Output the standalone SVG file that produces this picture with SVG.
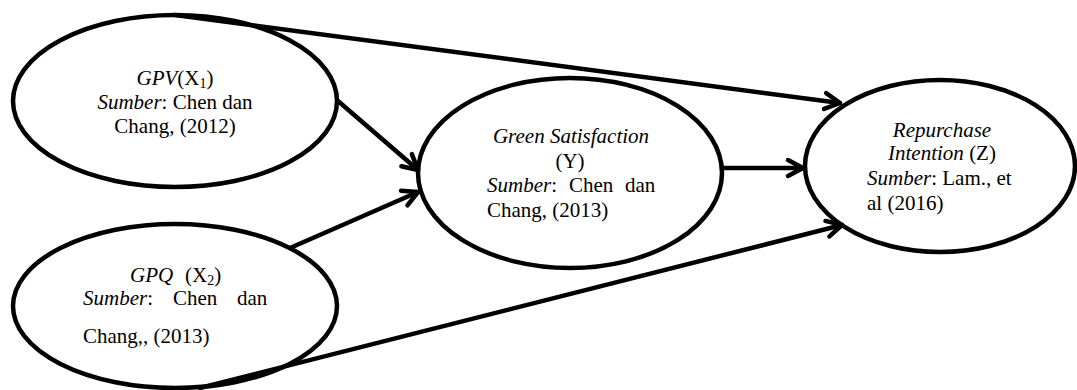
<svg xmlns="http://www.w3.org/2000/svg" width="1077" height="390" viewBox="0 0 1077 390">
<style>
.node{fill:#fff;stroke:#000;stroke-width:4.5}
.t{font-family:"Liberation Serif","Times New Roman",serif;font-size:21px;fill:#000}
.i{font-style:italic}
.edge{fill:none;stroke:#000;stroke-width:4.5;stroke-linecap:round}
</style>
<defs>
<marker id="arr" markerUnits="userSpaceOnUse" markerWidth="30" markerHeight="30" refX="0" refY="0" viewBox="-20 -15 30 30" orient="auto" overflow="visible">
<path d="M-15,-8 L0,0 L-15,8" fill="none" stroke="#000" stroke-width="4.5" stroke-linecap="round" stroke-linejoin="round"/>
</marker>
</defs>
<rect width="1077" height="390" fill="#fff"/>
<g id="n1">
<ellipse class="node" cx="175" cy="101" rx="162" ry="86"/>
<text class="t" x="175" y="85" text-anchor="middle"><tspan class="i">GPV</tspan>(X<tspan font-size="14" dy="3">1</tspan><tspan dy="-3">)</tspan></text>
<text class="t" x="175" y="109" text-anchor="middle"><tspan class="i">Sumber</tspan>: Chen dan</text>
<text class="t" x="175" y="133" text-anchor="middle">Chang, (2012)</text>
</g>
<g id="n2">
<ellipse class="node" cx="175" cy="306" rx="162" ry="82"/>
<text class="t" y="282"><tspan class="i" x="130">GPQ</tspan><tspan x="185">(X</tspan><tspan font-size="14" dy="3">2</tspan><tspan dy="-3">)</tspan></text>
<text class="t" y="305"><tspan class="i" x="83">Sumber</tspan>:<tspan x="173">Chen</tspan><tspan x="237">dan</tspan></text>
<text class="t" x="83" y="343">Chang,, (2013)</text>
</g>
<g id="n3">
<ellipse class="node" cx="570" cy="173" rx="152" ry="95"/>
<text class="t i" x="571" y="143" text-anchor="middle">Green Satisfaction</text>
<text class="t" x="570" y="168" text-anchor="middle">(Y)</text>
<text class="t" y="192"><tspan class="i" x="487">Sumber</tspan>:<tspan x="569">Chen</tspan><tspan x="625">dan</tspan></text>
<text class="t" x="487" y="217">Chang, (2013)</text>
</g>
<g id="n4">
<ellipse class="node" cx="940" cy="166" rx="135" ry="86"/>
<text class="t i" x="942" y="137" text-anchor="middle">Repurchase</text>
<text class="t" x="942" y="160" text-anchor="middle"><tspan class="i">Intention</tspan> (Z)</text>
<text class="t" x="867" y="185"><tspan class="i">Sumber</tspan>: Lam., et</text>
<text class="t" x="867" y="210">al (2016)</text>
</g>
<g id="edges">
<path class="edge" d="M175,15 L840,103" marker-end="url(#arr)"/>
<path class="edge" d="M338,101 L418,170" marker-end="url(#arr)"/>
<path class="edge" d="M290,248 L418,192" marker-end="url(#arr)"/>
<path class="edge" d="M722,168 L803,168" marker-end="url(#arr)"/>
<path class="edge" d="M200,388 L842,225" marker-end="url(#arr)"/>
</g>
</svg>
